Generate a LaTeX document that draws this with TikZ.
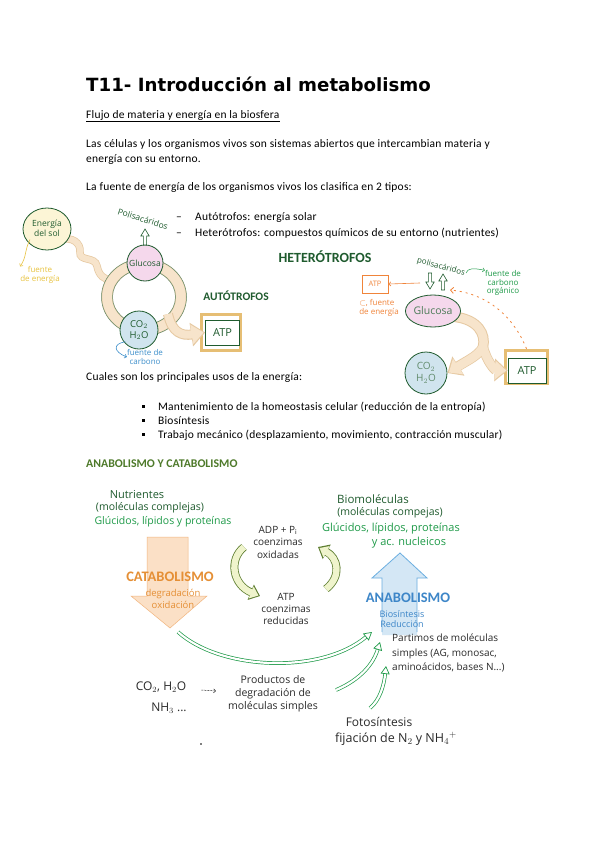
\documentclass[tikz,border=0pt]{standalone}
\usepackage{fontspec}
\setmainfont{Carlito}
\newfontfamily\hand{Open Sans}
\newfontfamily\titlefont{DejaVu Sans}
\usetikzlibrary{arrows.meta,calc,shapes.geometric}
\definecolor{dkgreen}{HTML}{1F5B2E}
\definecolor{grn}{HTML}{1E9A48}
\definecolor{cream}{HTML}{FCF5D6}
\definecolor{beige}{HTML}{F7E4CB}
\definecolor{beigeline}{HTML}{E6C9A2}
\definecolor{pinkf}{HTML}{F5D8EC}
\definecolor{bluef}{HTML}{D0E4EE}
\definecolor{tanc}{HTML}{E6BE74}
\definecolor{yel}{HTML}{E8C340}
\definecolor{bluet}{HTML}{3D8FCB}
\definecolor{orng}{HTML}{F0843A}
\definecolor{olive}{HTML}{4E7A2A}
\definecolor{catfill}{HTML}{FBE0C6}
\definecolor{catline}{HTML}{F2B57E}
\definecolor{cattext}{HTML}{E58F35}
\definecolor{anafill}{HTML}{D4E7F5}
\definecolor{analine}{HTML}{6AAEE0}
\definecolor{anatext}{HTML}{3D86C8}
\definecolor{ygfill}{HTML}{EFF4CC}
\definecolor{ygline}{HTML}{5F7F32}
\definecolor{ink}{HTML}{2A2A2A}
\tikzset{
  body/.style={anchor=base west, inner sep=0pt, font=\fontsize{11.5}{13}\selectfont\addfontfeatures{LetterSpace=1.8}},
  hw/.style={inner sep=0pt, align=center, font=\hand\fontsize{10.5}{12}\selectfont},
  hwsmall/.style={inner sep=0pt, align=center, font=\hand\fontsize{8}{8.5}\selectfont},
  bigword/.style={inner sep=0pt, font=\bfseries\fontsize{11.5}{12}\selectfont, text=dkgreen},
  cell/.style={circle, draw=dkgreen, line width=0.8pt, inner sep=0pt, align=center, text=dkgreen, font=\hand\fontsize{8.5}{9.5}\selectfont},
  atpframe/.style={draw=tanc, line width=3.5pt},
  atpin/.style={draw=dkgreen, line width=0.7pt, fill=white, text=dkgreen, font=\hand\fontsize{11}{12}\selectfont},
  hollowup/.pic={\draw[dkgreen, line width=0.6pt, fill=white] (-1.6,0) -- (-1.6,-9) -- (-4.2,-9) -- (0,-16) -- (4.2,-9) -- (1.6,-9) -- (1.6,0) -- cycle;},
  ygout/.style={draw=ygline, line width=8pt},
  ygin/.style={draw=ygfill, line width=6.4pt},
  garrow/.style={draw=grn, line width=0.7pt, double=white, double distance=2.2pt},
}
\begin{document}
\begin{tikzpicture}[x=1pt,y=-1pt]
\useasboundingbox (0,0) rectangle (600,848);
\fill[white] (0,0) rectangle (600,848);

% ---------- text ----------
\node[anchor=base west, inner sep=0pt, font=\titlefont\bfseries\fontsize{18.2}{20}\selectfont] (title) at (86,92) {T11- Introducción al metabolismo};
\node[body] (flujo) at (86,118) {Flujo de materia y energía en la biosfera};
\draw[line width=0.5pt] ($(flujo.base west)+(0,3)$) -- ($(flujo.base east)+(0,3)$);
\node[body] (p1) at (86,147) {Las células y los organismos vivos son sistemas abiertos que intercambian materia y};
\node[body] (p2) at (86,162) {energía con su entorno.};
\node[body] (p3) at (86,190) {La fuente de energía de los organismos vivos los clasifica en 2 tipos:};
\node[body] (d1) at (176,220) {–};
\node[body] (d2) at (176,236) {–};
\node[body] (t1) at (195,220) {Autótrofos: energía solar};
\node[body] (t2) at (195,236) {Heterótrofos: compuestos químicos de su entorno (nutrientes)};
\node[body] (p4) at (86,380) {Cuales son los principales usos de la energía:};
\node[fill=black, minimum size=2.8pt, inner sep=0pt] (b1) at (143.5,406.5) {};
\node[fill=black, minimum size=2.8pt, inner sep=0pt] (b2) at (143.5,420.5) {};
\node[fill=black, minimum size=2.8pt, inner sep=0pt] (b3) at (143.5,434.5) {};
\node[body] (u1) at (158,410) {Mantenimiento de la homeostasis celular (reducción de la entropía)};
\node[body] (u2) at (158,424) {Biosíntesis};
\node[body] (u3) at (158,438) {Trabajo mecánico (desplazamiento, movimiento, contracción muscular)};
\node[body, font=\bfseries\fontsize{11.8}{13}\selectfont, text=olive] (h2) at (86,467) {ANABOLISMO Y CATABOLISMO};

% ---------- autotrofos ----------
\draw[beigeline, line width=7.5pt] (60,240) .. controls (72,236) and (81,243) .. (80,252) .. controls (79,262) and (95,256) .. (97,266) .. controls (99,276) and (104,279) .. (112,281);
\draw[beige, line width=6pt] (60,240) .. controls (72,236) and (81,243) .. (80,252) .. controls (79,262) and (95,256) .. (97,266) .. controls (99,276) and (104,279) .. (112,281);
\fill[cream, draw=dkgreen, line width=0.8pt] (47,229) ellipse (24pt and 21pt);
\node[hw, text=dkgreen, font=\hand\fontsize{8.5}{10}\selectfont] (sun) at (47,228) {Energía\\del sol};
\node[hwsmall, text=yel] (fe) at (40,275) {fuente\\de energía};
\draw[yel, line width=0.6pt, -{Straight Barb[length=2pt]}] (sun.south west) ++(-2,3) coordinate (ya) .. controls (24,252) and (27,256) .. (fe.north west);

% ring
\draw[beigeline, line width=11.5pt] (144,297) ellipse (37pt and 33pt);
\draw[beige, line width=9.5pt] (144,297) ellipse (37pt and 33pt);
\draw[dkgreen!70, line width=0.5pt] (144,297) ellipse (42.5pt and 38.5pt);
\draw[dkgreen!70, line width=0.5pt] (144,297) ellipse (31.5pt and 27.5pt);
% band to ATP
\node[atpframe, minimum width=39pt, minimum height=36pt] (atpAf) at (221,332.5) {};
\node[atpin, minimum width=34pt, minimum height=25pt] (atpA) at (222.5,332.5) {ATP};
\coordinate (ringR) at (168,314);
\draw[beigeline, line width=10pt, -{Triangle[length=14pt,width=23pt]}] (ringR) .. controls (172,333) and (182,336) .. (atpA.west);
\draw[beige, line width=8pt, -{Triangle[length=12pt,width=19pt]}] (ringR) .. controls (172,333) and (182,336) .. ($(atpA.west)+(-1.5,0)$);
\node[cell, fill=pinkf, minimum size=36pt] (glucA) at (145,263) {Glucosa};
\node[cell, fill=bluef, minimum size=38pt, font=\hand\fontsize{9.5}{11}\selectfont] (co2A) at (139,330) {CO$_2$\\H$_2$O};
\pic at (145,245) {hollowup};
\node[hw, text=dkgreen, rotate=-18, font=\hand\fontsize{8.5}{8.5}\selectfont] (polA) at (143,219) {Polisacáridos};
\node[bigword] (auto) at (236,296) {AUTÓTROFOS};
\node[hwsmall, text=bluet] (fc) at (145,357) {fuente de\\carbono};
\draw[bluet, line width=0.6pt, -{Straight Barb[length=2pt]}] (co2A.south west) ++(0,-2) .. controls (112,344) and (114,352) .. (fc.west);

% ---------- heterotrofos ----------
\node[bigword, font=\bfseries\fontsize{14}{15}\selectfont] (hetero) at (325,257) {HETERÓTROFOS};
\node[draw=orng, line width=0.7pt, text=orng, font=\hand\fontsize{7.5}{8}\selectfont, minimum width=26pt, minimum height=18pt, inner sep=0pt] (atpO) at (375,284) {ATP};
\node[hwsmall, text=orng, align=left] (feo) at (379,308) {$\subset$, fuente\\ de energía};
\pic at (443,290) {hollowup};
\pic[rotate=180] at (430,273) {hollowup};
\node[hw, text=dkgreen, rotate=-15, font=\hand\fontsize{8}{8}\selectfont] (polB) at (441,267) {polisacáridos};
\draw[orng, line width=0.6pt, -{Straight Barb[length=2pt]}] (420,283) -- (atpO.east);
\node[hwsmall, text=grn, align=center] (fco) at (503,283) {fuente de\\carbono\\orgánico};
\draw[grn, line width=0.5pt, -{Straight Barb[length=2pt]}] (466,273) .. controls (468,268) and (473,268) .. (fco.north west);
\coordinate (br) at (483,347);
\coordinate (glucBR) at (456,317);
\node[atpframe, minimum width=42pt, minimum height=33pt] (atpBf) at (526.5,367) {};
\node[atpin, minimum width=38pt, minimum height=25pt] (atpB) at (527,370.5) {ATP};
\node[cell, fill=bluef, minimum size=42pt, font=\hand\fontsize{10}{12}\selectfont, text=dkgreen!70] (co2B) at (426,373) {CO$_2$\\H$_2$O};
\draw[beigeline, line width=10.5pt, line cap=round] (glucBR) .. controls (478,320) and (486,334) .. (br);
\draw[beigeline, line width=10pt, -{Triangle[length=13pt,width=22pt]}] (br) .. controls (478,356) and (468,360) .. (co2B.east);
\draw[beigeline, line width=10pt, -{Triangle[length=13pt,width=22pt]}] (br) .. controls (487,362) and (495,370) .. (atpB.west);
\draw[beige, line width=8.5pt, line cap=round] (glucBR) .. controls (478,320) and (486,334) .. (br);
\draw[beige, line width=8.5pt, -{Triangle[length=11pt,width=18pt]}] (br) .. controls (478,356) and (468,360) .. ($(co2B.east)+(1.5,-0.5)$);
\draw[beige, line width=8.5pt, -{Triangle[length=11pt,width=18pt]}] (br) .. controls (487,362) and (495,370) .. ($(atpB.west)+(-1.5,0)$);
\node[cell, fill=pinkf, ellipse, minimum width=54pt, minimum height=32pt, font=\hand\fontsize{10.5}{12}\selectfont, text=dkgreen!80] (glucB) at (433,311) {Glucosa};
\draw[orng, line width=0.8pt, dash pattern=on 2pt off 4pt, -{Straight Barb[length=3pt]}] (atpBf.north) .. controls (516,322) and (492,294) .. (450,290);

% ---------- anabolismo y catabolismo ----------
\node[hw, text=dkgreen, font=\hand\fontsize{11}{12}\selectfont] (nut) at (137,495) {Nutrientes};
\node[hw, text=dkgreen] (nut2) at (150,508) {(moléculas complejas)};
\node[hw, text=grn] (nut3) at (163,522) {Glúcidos, lípidos y proteínas};

\draw[catline, fill=catfill, line width=0.5pt] (147,537) -- (188,537) -- (188,596) -- (207,596) -- (170,628) -- (131,596) -- (147,596) -- cycle;
\node[inner sep=0pt, text=cattext, font=\bfseries\fontsize{14.5}{15}\selectfont] (cat) at (170,577) {CATABOLISMO};
\node[hw, text=cattext, font=\hand\fontsize{9.5}{12}\selectfont] (cat2) at (173,599) {degradación\\oxidación};

\node[hw, text=ink, font=\hand\fontsize{10}{12.5}\selectfont] (adp) at (278,542) {ADP + P$_\mathrm{i}$\\coenzimas\\oxidadas};
\node[hw, text=ink, font=\hand\fontsize{10}{12}\selectfont] (atpC) at (286,609) {ATP\\coenzimas\\reducidas};
\coordinate (ylA) at (244,547);
\coordinate (ylB) at (326,589);
\draw[ygout, -{Triangle[length=10pt,width=16pt]}] (ylA) .. controls (228,560) and (233,585) .. (260,596);
\draw[ygin, -{Triangle[length=8pt,width=12.5pt]}] (ylA) .. controls (228,560) and (233,585) .. (258.5,595.5);
\draw[ygout, -{Triangle[length=10pt,width=16pt]}] (ylB) .. controls (342,576) and (338,558) .. (318,547);
\draw[ygin, -{Triangle[length=8pt,width=12.5pt]}] (ylB) .. controls (342,576) and (338,558) .. (319.5,548);

\node[hw, text=dkgreen, font=\hand\fontsize{11.5}{12}\selectfont] (bio) at (373,499) {Biomoléculas};
\node[hw, text=dkgreen] (bio2) at (390,513) {(moléculas compejas)};
\node[hw, text=grn, font=\hand\fontsize{11}{12}\selectfont] (bio3) at (391,529) {Glúcidos, lípidos, proteínas};
\node[hw, text=grn, font=\hand\fontsize{11}{12}\selectfont] (bio4) at (409,543) {y ac. nucleicos};

\fill[anafill] (382,635) -- (382,578) -- (372,578) -- (400,553) -- (427,578) -- (417,578) -- (417,635) -- cycle;
\draw[analine, line width=0.8pt] (382,632) -- (382,578) -- (372,578) -- (400,553) -- (427,578) -- (417,578) -- (417,632);
\node[inner sep=0pt, text=anatext, font=\bfseries\fontsize{14.5}{15}\selectfont] (ana) at (408,598) {ANABOLISMO};
\node[hw, text=anatext, font=\hand\fontsize{9}{10}\selectfont] (ana2) at (402,619) {Biosíntesis\\Reducción};

\node[hw, text=ink, align=left, anchor=north west, font=\hand\fontsize{10}{14.5}\selectfont] (part) at (392,634) {Partimos de moléculas\\simples (AG, monosac,\\aminoácidos, bases N...)};

\coordinate (catEnd) at (178,632);
\draw[garrow, -{Triangle[open,length=8pt,width=9pt]}] (catEnd) .. controls (220,670) and (320,675) .. (372,632);
\coordinate (g2s) at (336,690);
\coordinate (g3s) at (370,708);
\draw[garrow, -{Triangle[open,length=8pt,width=9pt]}] (g2s) .. controls (355,682) and (372,668) .. (380,642);
\draw[garrow, -{Triangle[open,length=8pt,width=9pt]}] (g3s) .. controls (380,700) and (384,685) .. (386,666);

\node[hw, text=ink, font=\hand\fontsize{12}{13}\selectfont] (foto) at (379,722) {Fotosíntesis};
\node[hw, text=ink, font=\hand\fontsize{12.5}{13}\selectfont] (fij) at (396,739) {fijación de N$_2$ y NH$_4{}^{+}$};

\node[hw, text=ink, font=\hand\fontsize{12}{13}\selectfont] (co2C) at (161,687) {CO$_2$, H$_2$O};
\node[hw, text=ink, font=\hand\fontsize{12}{13}\selectfont] (nh3) at (169,708) {NH$_3$ ...};
\node[hw, text=ink, font=\hand\fontsize{10.5}{13}\selectfont] (prod) at (273,694) {Productos de\\degradación de\\moléculas simples};
\draw[ink, line width=0.5pt, dash pattern=on 2pt off 1pt, -{Straight Barb[length=2pt]}] ($(co2C.east)+(15,3)$) coordinate (da) -- ($(prod.west)+(-12,-3)$);
\node[fill=gray, inner sep=0pt, minimum size=1.5pt] (speck) at (201,744) {};
\end{tikzpicture}
\end{document}
